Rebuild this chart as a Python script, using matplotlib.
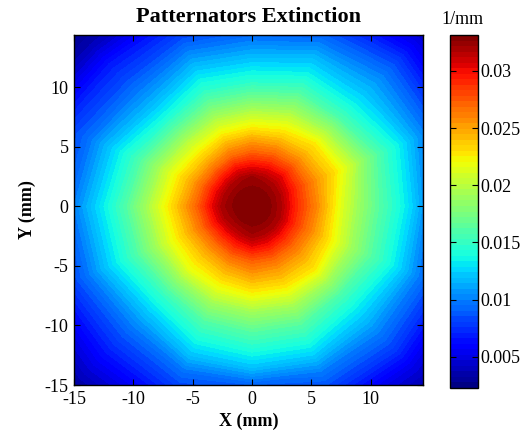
import numpy as np
import matplotlib
matplotlib.use('Agg')
import matplotlib.pyplot as plt

plt.rcParams['font.family'] = ['Liberation Serif', 'DejaVu Serif']
plt.rcParams['axes.unicode_minus'] = False

# the spray pattern is nearly round, so the values are read along spokes
angles_deg = [0, 22.5, 45, 67.5, 90, 112.5, 135, 157.5,
              180, 202.5, 225, 247.5, 270, 292.5, 315, 337.5]
radii_mm = [0, 1.5, 2.5, 3.5, 4.5, 5.5, 6.5, 7.5, 9, 10.5, 12, 13.5, 15, 17, 19, 23]

# extinction along each spoke, in 1e-3 1/mm (one row per angle)
ext = [
    [33.1, 32.8, 31.7, 29.5, 27.6, 25.8, 23.6, 21.4, 18.8, 16.5, 14.5, 12.4, 9.8, 7.6, 5.4, 2.6],
    [33.1, 32.8, 31.8, 29.8, 27.8, 26.0, 24.4, 23.0, 20.4, 17.6, 15.2, 13.2, 11.0, 8.5, 6.0, 2.9],
    [33.1, 32.8, 31.9, 30.3, 28.0, 25.8, 24.0, 22.6, 19.2, 15.8, 13.6, 12.0, 10.6, 8.4, 5.8, 1.0],
    [33.1, 32.8, 32.0, 30.0, 27.6, 25.4, 23.3, 21.5, 18.5, 15.8, 13.6, 11.8, 9.8, 7.4, 5.2, 2.2],
    [33.1, 32.8, 32.2, 29.8, 27.3, 25.2, 22.8, 20.7, 17.4, 14.6, 12.5, 10.5, 8.6, 6.4, 4.4, 2.0],
    [33.1, 32.8, 32.0, 29.8, 27.0, 24.8, 22.6, 20.5, 17.4, 14.8, 12.8, 10.8, 8.8, 6.6, 4.4, 1.6],
    [33.1, 32.8, 31.8, 29.4, 26.6, 24.2, 22.2, 20.2, 16.8, 13.8, 11.7, 10.0, 8.4, 6.6, 3.9, 0.8],
    [33.1, 32.8, 31.8, 29.6, 27.0, 24.8, 23.0, 21.2, 18.2, 15.5, 13.4, 11.4, 9.4, 7.6, 5.4, 1.5],
    [33.1, 32.8, 32.0, 30.0, 27.5, 25.5, 23.6, 21.8, 19.0, 16.3, 14.0, 12.0, 10.0, 7.6, 5.3, 2.0],
    [33.1, 32.7, 31.7, 29.5, 27.0, 25.0, 23.2, 21.5, 18.6, 16.0, 13.8, 11.8, 9.7, 7.4, 5.1, 2.0],
    [33.1, 32.7, 31.4, 29.0, 26.6, 24.6, 23.0, 21.6, 18.0, 15.0, 12.8, 10.8, 9.0, 7.0, 5.0, 1.5],
    [33.1, 32.7, 31.5, 29.3, 27.0, 25.0, 23.3, 21.6, 18.6, 16.0, 14.0, 12.0, 9.6, 7.4, 5.2, 2.0],
    [33.1, 32.8, 32.0, 29.9, 27.4, 25.6, 23.8, 22.0, 18.8, 16.3, 14.2, 12.0, 9.0, 7.0, 5.0, 2.0],
    [33.1, 32.8, 31.8, 29.8, 27.5, 25.6, 24.0, 22.3, 19.3, 16.6, 14.5, 12.4, 10.0, 7.7, 5.3, 2.0],
    [33.1, 32.8, 31.8, 29.6, 27.4, 25.6, 24.0, 22.6, 19.0, 15.8, 13.6, 11.8, 10.0, 7.8, 5.2, 1.6],
    [33.1, 32.8, 31.8, 29.6, 27.5, 25.7, 23.8, 21.9, 19.1, 16.7, 14.6, 12.5, 10.2, 7.8, 5.5, 2.3],
]

cbar_lo = 0.00226
cbar_hi = 0.03315
cbar_ticks = [0.005, 0.01, 0.015, 0.02, 0.025, 0.03]
cbar_labels = ['0.005', '0.01', '0.015', '0.02', '0.025', '0.03']
x_ticks = [-15, -10, -5, 0, 5, 10]
y_ticks = [-15, -10, -5, 0, 5, 10]

# close the circle and go to x/y
Z = np.array(ext + [ext[0]]) * 1e-3
th = np.deg2rad(angles_deg + [360])
R, T = np.meshgrid(radii_mm, th)
X = R * np.cos(T)
Y = R * np.sin(T)

fig = plt.figure(figsize=(5.25, 4.33), dpi=100)
ax = fig.add_axes([74/525, 48/433, 349/525, 350/433])

levels = np.linspace(cbar_lo, cbar_hi, 65)
cs = ax.contourf(X, Y, Z, levels=levels, cmap='jet')

ax.set_xlim(-15, 14.4)
ax.set_ylim(-15, 14.4)
ax.set_xticks(x_ticks)
ax.set_yticks(y_ticks)
ax.tick_params(direction='in', top=True, right=True, length=4, width=0.8,
               labelsize=13, pad=4)
for s in ax.spines.values():
    s.set_linewidth(1.0)

ax.set_title('Patternators Extinction', fontsize=16, fontweight='bold', pad=9)
ax.set_xlabel('X (mm)', fontsize=13, fontweight='bold', labelpad=4)
ax.set_ylabel('Y (mm)', fontsize=13, fontweight='bold', labelpad=6)

cax = fig.add_axes([450/525, 45/433, 28/525, 353/433])
cb = fig.colorbar(cs, cax=cax, ticks=cbar_ticks)
cb.ax.set_yticklabels(cbar_labels)
cb.ax.tick_params(direction='in', left=True, right=True, length=4, width=0.8,
                  labelsize=13, pad=2)
cb.outline.set_linewidth(1.0)
fig.text(462/525, 1 - 19/433, '1/mm', fontsize=13, ha='center', va='center')

fig.savefig('out.png', dpi=100)
